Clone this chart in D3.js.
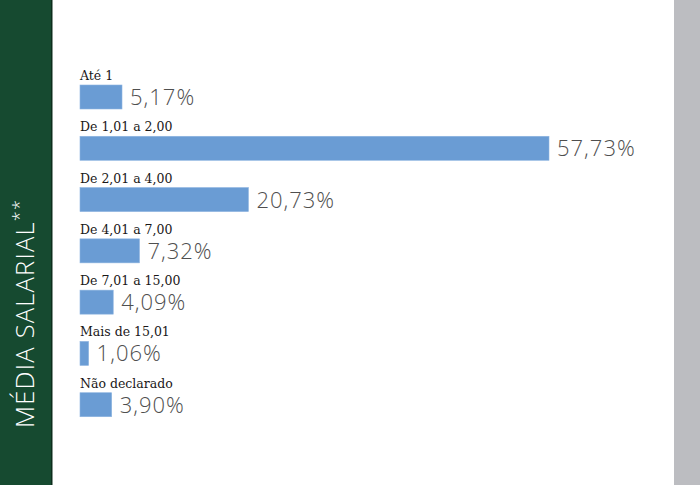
<!DOCTYPE html>
<html>
<head>
<meta charset="utf-8">
<script src="https://cdn.jsdelivr.net/npm/d3@7"></script>
<style>
  body { margin: 0; background: #fff; }
  svg { display: block; }
</style>
</head>
<body>
<svg id="chart" width="700" height="485"></svg>
<script>
// categories and shares (%)
let categories = ["Até 1", "De 1,01 a 2,00", "De 2,01 a 4,00", "De 4,01 a 7,00",
                  "De 7,01 a 15,00", "Mais de 15,01", "Não declarado"];
let values = [5.17, 57.73, 20.73, 7.32, 4.09, 1.06, 3.90];
let valueLabels = ["5,17%", "57,73%", "20,73%", "7,32%", "4,09%", "1,06%", "3,90%"];
let title = "MÉDIA SALARIAL";

let chart = d3.select("#chart");
let chart_width = 700, chart_height = 485;

// side panels
chart.append("rect")
    .attr("x", 0).attr("y", 0)
    .attr("width", 51).attr("height", chart_height)
    .attr("fill", "#164a30");
chart.append("rect")
    .attr("x", 51).attr("y", 0)
    .attr("width", 1.5).attr("height", chart_height)
    .attr("fill", "#0d2e1d");
chart.append("rect")
    .attr("x", 674).attr("y", 0)
    .attr("width", 26).attr("height", chart_height)
    .attr("fill", "#bcbdc1");

// vertical title
let t = chart.append("text")
    .attr("transform", "translate(34,428) rotate(-90)")
    .attr("fill", "#ffffff")
    .style("font-family", "'Open Sans', sans-serif")
    .style("font-weight", 300)
    .style("font-size", "25.5px")
    .style("letter-spacing", "1.2px");
t.append("tspan").text(title);
t.append("tspan").text("**")
    .attr("dy", -8)
    .style("font-size", "18px");

// scales
let x = d3.scaleLinear()
    .domain([0, d3.max(values)])
    .range([0, 469]);

let y = d3.scaleBand()
    .domain(categories)
    .range([67, 426])
    .paddingInner(0);

let rows = chart.selectAll("g.row")
    .data(categories).enter()
    .append("g")
        .attr("class", "row")
        .attr("transform", function(d){ return "translate(80," + y(d) + ")"; });

// category labels
rows.append("text")
    .text(function(d){ return d; })
    .attr("x", 0)
    .attr("y", 13)
    .attr("fill", "#1a1718")
    .style("font-family", "'DejaVu Serif', serif")
    .style("font-size", "12.5px");

// bars
rows.append("rect")
    .attr("x", 0)
    .attr("y", 18)
    .attr("height", 24)
    .attr("width", function(d,i){ return x(values[i]); })
    .attr("fill", "#6a9cd4")
    .attr("stroke", "#8db4e0")
    .attr("stroke-width", 0.6);

// value labels
rows.append("text")
    .text(function(d,i){ return valueLabels[i]; })
    .attr("x", function(d,i){ return x(values[i]) + 8; })
    .attr("y", 38)
    .attr("fill", "#4f4f4f")
    .style("font-family", "'Open Sans', sans-serif")
    .style("font-weight", 300)
    .style("font-size", "22px")
    .style("letter-spacing", "1px");
</script>
</body>
</html>
